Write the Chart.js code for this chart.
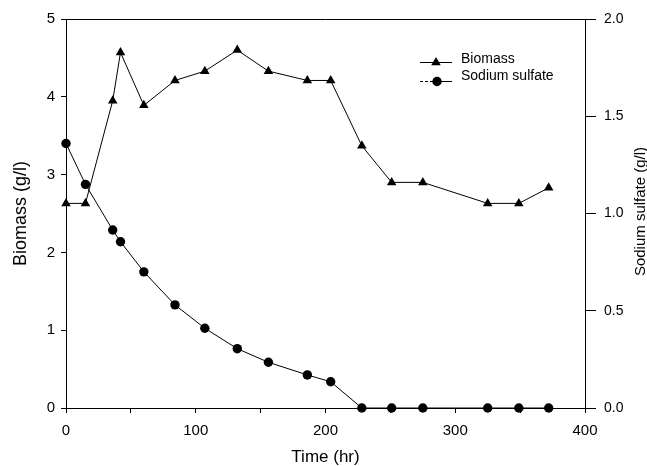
<!DOCTYPE html>
<html>
<head>
<meta charset="utf-8">
<script src="https://cdn.jsdelivr.net/npm/chart.js@4/dist/chart.umd.min.js"></script>
<style>
  html, body { margin: 0; padding: 0; background: #fff; }
  #wrap { width: 647px; height: 466px; }
</style>
</head>
<body>
<div id="wrap"><canvas id="c" width="647" height="466"></canvas></div>
<script>
// ---- data ----
const times = [0, 15, 36, 42, 60, 84, 107, 132, 156, 186, 204, 228, 251, 275, 325, 349, 372];
const biomass = [2.63, 2.63, 3.95, 4.57, 3.89, 4.21, 4.33, 4.60, 4.33, 4.21, 4.21, 3.37, 2.90, 2.90, 2.63, 2.63, 2.83];
const sodiumSulfate = [1.36, 1.15, 0.915, 0.855, 0.70, 0.53, 0.41, 0.305, 0.235, 0.17, 0.135, 0, 0, 0, 0, 0, 0];
const seriesNames = ['Biomass', 'Sodium sulfate'];
const xTitle = 'Time (hr)';
const yTitle = 'Biomass (g/l)';
const y1Title = 'Sodium sulfate (g/l)';

const FONT = "'Liberation Sans', Arial, Helvetica, sans-serif";

const toXY = (xs, ys) => xs.map((x, i) => ({ x: x, y: ys[i] }));

const framePlugin = {
  id: 'frame',
  afterDatasetsDraw(chart) {
    const { ctx, chartArea: a } = chart;
    ctx.save();
    // top border
    ctx.strokeStyle = '#000';
    ctx.lineWidth = 1;
    ctx.beginPath();
    ctx.moveTo(a.left, Math.round(a.top) + 0.5);
    ctx.lineTo(a.right, Math.round(a.top) + 0.5);
    ctx.stroke();

    // right axis title (reads bottom to top)
    ctx.fillStyle = '#000';
    ctx.font = '15px ' + FONT;
    ctx.textAlign = 'center';
    ctx.textBaseline = 'alphabetic';
    ctx.translate(645, (a.top + a.bottom) / 2 - 2);
    ctx.rotate(-Math.PI / 2);
    ctx.fillText(y1Title, 0, 0);
    ctx.restore();

    // legend
    ctx.save();
    ctx.font = '14px ' + FONT;
    ctx.fillStyle = '#000';
    ctx.strokeStyle = '#000';
    ctx.lineWidth = 1;
    ctx.textAlign = 'left';
    ctx.textBaseline = 'middle';
    const lx0 = 420, lx1 = 452, tx = 461;
    const rows = [59, 76];
    // Biomass row
    let ly = rows[0] + 3.5;
    ctx.beginPath(); ctx.moveTo(lx0, ly); ctx.lineTo(lx1, ly); ctx.stroke();
    const mx = (lx0 + lx1) / 2, r = 5.5;
    ctx.beginPath();
    ctx.moveTo(mx, ly - r);
    ctx.lineTo(mx + r * Math.sin(2 * Math.PI / 3), ly - r * Math.cos(2 * Math.PI / 3));
    ctx.lineTo(mx + r * Math.sin(4 * Math.PI / 3), ly - r * Math.cos(4 * Math.PI / 3));
    ctx.closePath(); ctx.fill();
    ctx.fillText(seriesNames[0], tx, rows[0]);
    // Sodium sulfate row
    ly = rows[1] + 5.5;
    ctx.setLineDash([3, 2]);
    ctx.beginPath(); ctx.moveTo(lx0, ly); ctx.lineTo(mx, ly); ctx.stroke();
    ctx.setLineDash([]);
    ctx.beginPath(); ctx.moveTo(mx, ly); ctx.lineTo(lx1, ly); ctx.stroke();
    ctx.beginPath(); ctx.arc(mx + 1, ly, 4.7, 0, Math.PI * 2); ctx.fill();
    ctx.fillText(seriesNames[1], tx, rows[1]);
    ctx.restore();
  }
};

new Chart(document.getElementById('c'), {
  type: 'line',
  data: {
    datasets: [
      {
        label: seriesNames[0],
        data: toXY(times, biomass),
        yAxisID: 'y',
        borderColor: '#000',
        backgroundColor: '#000',
        borderWidth: 1,
        pointStyle: 'triangle',
        pointRadius: 5.5,
        pointBorderWidth: 0,
        pointBackgroundColor: '#000',
        tension: 0,
        clip: false
      },
      {
        label: seriesNames[1],
        data: toXY(times, sodiumSulfate),
        yAxisID: 'y1',
        borderColor: '#000',
        backgroundColor: '#000',
        borderWidth: 1,
        pointStyle: 'circle',
        pointRadius: 4.7,
        pointBorderWidth: 0,
        pointBackgroundColor: '#000',
        tension: 0,
        clip: false
      }
    ]
  },
  options: {
    responsive: false,
    animation: false,
    devicePixelRatio: 1,
    layout: { padding: { top: 19, left: 0, right: 0, bottom: 0 } },
    plugins: {
      legend: { display: false },
      tooltip: { enabled: false },
      title: { display: false }
    },
    scales: {
      x: {
        type: 'linear',
        position: 'bottom',
        min: 0, max: 400,
        afterFit(s) { s.height = 58; },
        border: { display: true, color: '#000', width: 1 },
        grid: { drawOnChartArea: false, drawTicks: true, tickLength: 5, color: '#000', tickColor: '#000' },
        ticks: {
          stepSize: 50,
          color: '#000',
          font: { family: FONT, size: 15 },
          padding: 9,
          maxRotation: 0,
          autoSkip: false,
          callback: (v) => (v % 100 === 0 ? String(v) : '')
        },
        title: { display: true, text: xTitle, color: '#000', font: { family: FONT, size: 17 }, padding: { top: 0, bottom: -2 } }
      },
      y: {
        type: 'linear',
        position: 'left',
        min: 0, max: 5,
        afterFit(s) { s.width = 66; },
        border: { display: true, color: '#000', width: 1 },
        grid: { drawOnChartArea: false, drawTicks: true, tickLength: 5, color: '#000', tickColor: '#000' },
        ticks: { stepSize: 1, color: '#000', font: { family: FONT, size: 15 }, padding: 6 },
        title: { display: true, text: yTitle, color: '#000', font: { family: FONT, size: 18 }, padding: { top: 10, bottom: 0 } }
      },
      y1: {
        type: 'linear',
        position: 'right',
        min: 0, max: 2,
        afterFit(s) { s.width = 62; },
        border: { display: true, color: '#000', width: 1 },
        grid: { drawOnChartArea: false, drawTicks: true, tickLength: 11, color: '#000', tickColor: '#000' },
        ticks: { stepSize: 0.5, color: '#000', font: { family: FONT, size: 14 }, padding: 8, callback: (v) => Number(v).toFixed(1) },
        title: { display: false }
      }
    }
  },
  plugins: [framePlugin]
});
</script>
</body>
</html>
